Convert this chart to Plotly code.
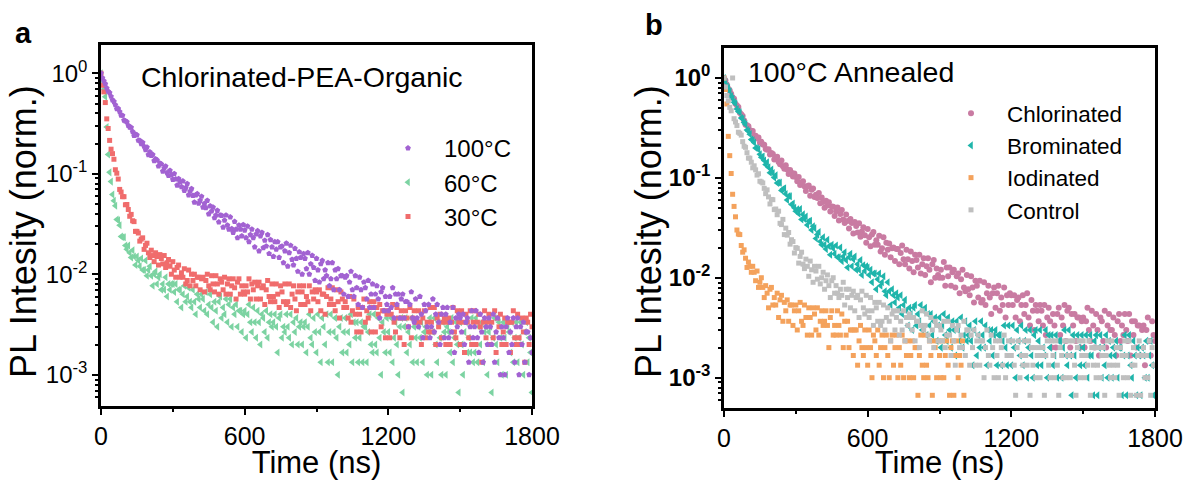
import plotly.graph_objects as go

# ---------------- data (photon counts per 6-ns TCSPC bin) ----------------
TIME_NS = list(range(0, 1801, 6))

X_TICKS = [0, 600, 1200, 1800]
X_MINOR = [300, 900, 1500]
Y_TICKS = [1e-3, 1e-2, 1e-1, 1]
Y_TICK_TEXT = ["10<sup>-3</sup>", "10<sup>-2</sup>", "10<sup>-1</sup>", "10<sup>0</sup>"]

# Panel a : Chlorinated-PEA-Organic, annealing temperature
counts_100C = [
    2985, 2682, 2507, 2344, 2127, 1974, 1909, 1758, 1620, 1563,
    1447, 1320, 1330, 1240, 1138, 1138, 1019, 1001, 981, 903,
    867, 864, 786, 715, 740, 727, 642, 640, 595, 612,
    559, 518, 550, 462, 493, 453, 464, 403, 420, 409,
    356, 380, 373, 317, 340, 356, 306, 287, 322, 290,
    262, 300, 265, 230, 267, 249, 222, 253, 203, 217,
    238, 184, 200, 212, 182, 156, 184, 189, 152, 162,
    178, 139, 151, 137, 162, 119, 143, 127, 139, 109,
    116, 129, 99, 116, 115, 88, 103, 116, 92, 84,
    111, 85, 78, 100, 84, 69, 92, 84, 72, 93,
    82, 69, 90, 63, 74, 84, 69, 56, 75, 81,
    51, 72, 78, 55, 65, 57, 74, 48, 66, 56,
    45, 63, 53, 63, 44, 56, 57, 39, 51, 61,
    36, 49, 58, 42, 37, 54, 43, 32, 50, 44,
    30, 48, 43, 34, 49, 30, 38, 46, 35, 26,
    43, 33, 25, 38, 41, 27, 33, 29, 39, 23,
    27, 39, 21, 33, 27, 34, 21, 29, 29, 19,
    28, 29, 18, 25, 32, 21, 18, 29, 22, 15,
    28, 21, 14, 25, 22, 17, 26, 14, 19, 24,
    14, 19, 23, 17, 11, 20, 22, 13, 18, 15,
    13, 18, 14, 22, 11, 19, 15, 19, 11, 17,
    19, 11, 16, 16, 9, 15, 20, 11, 10, 17,
    11, 9, 18, 12, 7, 15, 13, 9, 15, 7,
    9, 17, 8, 12, 15, 10, 6, 12, 14, 7,
    12, 14, 7, 10, 8, 14, 5, 11, 9, 12,
    11, 8, 12, 6, 10, 11, 4, 9, 13, 7,
    9, 13, 7, 5, 12, 8, 4, 11, 9, 6,
    11, 9, 6, 12, 4, 8, 11, 7, 3, 9,
    7, 3, 9, 11, 5, 8, 6, 11, 4, 9,
    11, 3, 9, 6, 10, 4, 8, 8, 3, 7,
    5,
]

counts_60C = [
    2985, 2508, 2077, 1746, 873, 466, 309, 250, 186, 161,
    144, 105, 103, 92, 71, 70, 70, 58, 53, 58,
    49, 44, 52, 45, 37, 45, 41, 36, 43, 33,
    33, 41, 29, 33, 36, 29, 23, 30, 32, 24,
    28, 30, 21, 24, 21, 28, 18, 24, 21, 24,
    24, 20, 24, 16, 21, 21, 14, 19, 23, 16,
    18, 22, 16, 14, 21, 16, 12, 19, 17, 14,
    19, 17, 13, 20, 12, 15, 19, 14, 10, 16,
    13, 9, 16, 18, 11, 14, 12, 17, 10, 15,
    17, 9, 14, 12, 15, 9, 13, 13, 8, 12,
    13, 7, 12, 15, 10, 8, 14, 10, 7, 13,
    10, 6, 12, 11, 8, 13, 7, 10, 12, 9,
    10, 12, 9, 5, 11, 12, 7, 9, 8, 12,
    9, 7, 12, 6, 10, 8, 11, 6, 9, 10,
    6, 9, 10, 5, 9, 12, 7, 6, 11, 8,
    5, 12, 8, 4, 11, 9, 6, 12, 4, 8,
    12, 4, 8, 11, 7, 3, 9, 11, 5, 8,
    11, 5, 8, 6, 12, 4, 10, 7, 10, 4,
    7, 10, 4, 9, 9, 4, 8, 12, 6, 5,
    12, 6, 5, 11, 7, 3, 10, 8, 5, 11,
    8, 5, 11, 4, 7, 10, 6, 3, 9, 11,
    2, 9, 11, 5, 8, 6, 11, 4, 9, 7,
    4, 9, 7, 10, 4, 8, 9, 3, 8, 11,
    3, 8, 11, 6, 4, 10, 7, 3, 10, 8,
    3, 9, 8, 5, 11, 4, 7, 10, 6, 2,
    10, 6, 3, 8, 10, 5, 7, 5, 11, 4,
    5, 11, 4, 9, 6, 10, 4, 8, 9, 3,
    8, 9, 2, 7, 11, 6, 4, 10, 7, 3,
    10, 7, 3, 9, 8, 5, 10, 4, 7, 10,
    4, 7, 10, 6, 3, 8, 10, 4, 7, 5,
    2,
]

counts_30C = [
    2985, 2267, 1949, 1526, 1051, 843, 642, 525, 474, 417,
    328, 303, 265, 209, 197, 177, 177, 147, 148, 132,
    113, 118, 102, 100, 80, 80, 77, 64, 67, 69,
    53, 58, 61, 49, 44, 52, 46, 40, 49, 45,
    37, 47, 43, 38, 46, 35, 39, 42, 36, 30,
    40, 33, 28, 35, 37, 28, 31, 28, 34, 24,
    26, 33, 23, 30, 26, 30, 23, 28, 28, 21,
    27, 28, 20, 26, 30, 23, 21, 29, 24, 20,
    29, 24, 19, 27, 25, 21, 28, 19, 24, 27,
    19, 23, 27, 22, 17, 25, 27, 19, 23, 20,
    19, 23, 20, 27, 17, 24, 21, 25, 17, 23,
    25, 17, 22, 23, 15, 21, 26, 18, 16, 24,
    18, 16, 24, 19, 14, 23, 20, 16, 24, 15,
    16, 24, 14, 19, 23, 17, 13, 20, 23, 15,
    20, 23, 15, 18, 16, 23, 13, 20, 17, 21,
    20, 16, 21, 13, 19, 19, 12, 18, 22, 15,
    17, 22, 15, 13, 21, 16, 11, 20, 17, 14,
    16, 14, 11, 18, 10, 13, 17, 12, 8, 14,
    12, 8, 14, 17, 10, 13, 11, 16, 8, 14,
    16, 8, 14, 12, 15, 9, 13, 13, 7, 12,
    13, 7, 12, 15, 10, 8, 14, 11, 7, 13,
    11, 6, 13, 11, 9, 14, 7, 11, 13, 10,
    10, 13, 10, 6, 11, 13, 7, 10, 8, 14,
    10, 8, 14, 6, 11, 9, 12, 7, 10, 11,
    6, 10, 11, 6, 10, 14, 8, 7, 13, 10,
    6, 13, 10, 5, 12, 10, 7, 13, 6, 10,
    13, 6, 10, 12, 9, 4, 10, 13, 7, 10,
    12, 6, 10, 7, 13, 5, 11, 9, 12, 6,
    8, 11, 6, 10, 10, 5, 10, 13, 7, 6,
    12, 7, 6, 11, 8, 4, 11, 10, 6, 12,
    9,
]

# Panel b : 100 °C annealed, halide type
counts_chlorinated = [
    2985, 2824, 2556, 2324, 2243, 2074, 1901, 1851, 1652, 1581,
    1529, 1343, 1295, 1244, 1124, 1018, 1004, 983, 895, 886,
    882, 793, 789, 742, 760, 671, 689, 644, 643, 580,
    572, 579, 511, 530, 518, 457, 476, 487, 432, 409,
    447, 391, 369, 399, 363, 327, 358, 337, 308, 331,
    306, 276, 306, 254, 268, 277, 247, 221, 246, 251,
    198, 228, 234, 193, 203, 188, 211, 167, 190, 172,
    150, 177, 158, 171, 138, 155, 154, 124, 139, 151,
    112, 130, 143, 115, 106, 129, 111, 93, 116, 106,
    83, 108, 99, 85, 105, 77, 87, 96, 80, 67,
    92, 76, 62, 81, 86, 64, 71, 64, 79, 55,
    59, 76, 51, 67, 57, 66, 48, 59, 60, 44,
    58, 58, 41, 53, 63, 46, 41, 57, 46, 37,
    55, 44, 34, 51, 45, 38, 51, 33, 41, 47,
    32, 39, 47, 36, 27, 41, 45, 30, 37, 32,
    30, 36, 30, 43, 25, 38, 31, 38, 25, 34,
    36, 24, 31, 33, 21, 29, 36, 24, 22, 32,
    23, 20, 31, 24, 17, 28, 25, 19, 28, 17,
    18, 27, 16, 21, 25, 19, 13, 21, 24, 15,
    21, 25, 14, 19, 16, 24, 12, 20, 16, 21,
    20, 16, 20, 12, 18, 19, 11, 16, 20, 13,
    16, 21, 12, 10, 18, 14, 9, 16, 14, 11,
    16, 14, 10, 16, 8, 12, 15, 11, 6, 13,
    10, 6, 13, 15, 8, 12, 10, 16, 7, 14,
    15, 6, 13, 10, 13, 7, 12, 12, 6, 11,
    12, 6, 11, 15, 9, 7, 14, 10, 6, 13,
    9, 5, 12, 11, 7, 14, 6, 10, 13, 9,
    9, 12, 8, 5, 11, 13, 7, 10, 8, 13,
    9, 7, 13, 5, 11, 8, 11, 6, 10, 10,
    5, 9, 10, 4, 9, 12, 7, 5, 11, 8,
    7,
]

counts_brominated = [
    2985, 2744, 2465, 2375, 2202, 1956, 1856, 1711, 1654, 1463,
    1380, 1358, 1185, 1167, 1070, 1025, 900, 875, 819, 724,
    710, 674, 595, 591, 579, 514, 480, 490, 447, 406,
    428, 381, 337, 362, 335, 301, 317, 266, 268, 268,
    224, 231, 235, 206, 180, 197, 196, 162, 166, 150,
    139, 145, 131, 146, 115, 129, 116, 123, 101, 110,
    111, 90, 98, 94, 74, 81, 86, 69, 64, 76,
    64, 58, 72, 62, 51, 64, 59, 52, 63, 48,
    48, 60, 44, 49, 54, 45, 38, 48, 52, 39,
    46, 49, 36, 41, 36, 45, 32, 40, 35, 39,
    38, 32, 36, 27, 33, 33, 23, 29, 33, 25,
    27, 31, 22, 20, 27, 22, 16, 23, 20, 17,
    21, 19, 15, 20, 13, 16, 18, 14, 10, 15,
    13, 9, 15, 16, 10, 13, 11, 16, 9, 14,
    15, 8, 13, 10, 13, 8, 11, 12, 7, 10,
    12, 6, 10, 13, 8, 7, 12, 9, 6, 11,
    9, 5, 11, 9, 7, 12, 6, 8, 11, 7,
    8, 10, 7, 4, 9, 11, 5, 8, 6, 11,
    8, 6, 10, 4, 9, 7, 9, 5, 8, 9,
    4, 8, 8, 4, 7, 10, 6, 4, 10, 7,
    4, 10, 6, 3, 9, 7, 5, 10, 4, 7,
    9, 3, 6, 9, 5, 3, 8, 9, 4, 7,
    9, 4, 6, 5, 9, 3, 8, 6, 8, 4,
    5, 8, 3, 7, 7, 3, 6, 9, 5, 4,
    9, 5, 2, 8, 5, 3, 8, 6, 4, 8,
    6, 4, 8, 3, 5, 8, 5, 2, 7, 8,
    2, 6, 8, 3, 6, 4, 8, 3, 7, 5,
    3, 6, 5, 7, 3, 6, 6, 2, 5, 8,
    2, 5, 8, 4, 3, 7, 5, 2, 6, 5,
    2, 6, 5, 3, 7, 3, 5, 7, 4, 2,
    4,
]

counts_iodinated = [
    2985, 2289, 1640, 778, 499, 331, 205, 155, 122, 90,
    82, 81, 63, 54, 57, 47, 38, 43, 39, 34,
    39, 34, 28, 35, 24, 27, 30, 24, 19, 25,
    21, 15, 23, 24, 16, 19, 16, 21, 12, 18,
    20, 11, 17, 14, 18, 11, 16, 16, 10, 14,
    16, 9, 14, 17, 11, 10, 16, 12, 8, 15,
    12, 8, 15, 13, 9, 15, 8, 11, 14, 10,
    11, 14, 10, 6, 12, 14, 8, 10, 8, 14,
    10, 8, 13, 6, 11, 8, 11, 6, 9, 9,
    5, 9, 9, 4, 7, 10, 6, 5, 9, 6,
    4, 9, 6, 3, 8, 7, 5, 9, 4, 6,
    8, 3, 6, 8, 5, 3, 7, 8, 4, 6,
    8, 3, 6, 4, 8, 3, 7, 5, 7, 3,
    5, 7, 3, 6, 6, 2, 5, 8, 4, 3,
    8, 4, 3, 7, 5, 2, 7, 6, 3, 7,
    5, 3, 7, 3, 5, 7, 4, 2, 6, 7,
    2, 5, 7, 3, 5, 4, 7, 2,
]

counts_control = [
    2985, 2424, 1993, 1763, 1518, 1402, 2985, 1169, 1084, 998,
    856, 835, 801, 689, 620, 604, 534, 472, 471, 429,
    377, 395, 360, 319, 329, 277, 272, 266, 235, 208,
    227, 193, 164, 182, 181, 144, 146, 128, 139, 105,
    102, 115, 81, 94, 80, 85, 65, 72, 69, 53,
    60, 59, 42, 49, 54, 41, 37, 46, 39, 31,
    44, 36, 27, 39, 35, 29, 39, 26, 30, 34,
    23, 28, 32, 25, 19, 28, 30, 21, 25, 21,
    19, 23, 20, 27, 16, 23, 19, 23, 15, 20,
    22, 14, 19, 20, 12, 18, 22, 15, 13, 20,
    14, 12, 19, 14, 10, 17, 15, 11, 17, 10,
    11, 16, 9, 12, 15, 11, 7, 13, 14, 9,
    12, 14, 8, 11, 9, 14, 7, 12, 10, 13,
    12, 9, 12, 7, 11, 11, 6, 10, 14, 9,
    10, 13, 8, 7, 12, 9, 6, 11, 10, 7,
    10, 9, 7, 11, 6, 8, 11, 8, 5, 10,
    7, 4, 9, 10, 6, 8, 6, 11, 5, 9,
    9, 4, 8, 6, 9, 4, 7, 8, 4, 7,
    7, 3, 6, 9, 5, 4, 8, 6, 3, 7,
    5, 3, 7, 6, 4, 8, 3, 5, 7, 5,
    5, 7, 4, 2, 6, 7, 3, 5, 4, 7,
    5, 4, 7, 2, 6, 4, 6, 3, 5, 6,
    3, 5, 6, 2, 5, 7, 4, 3, 7, 5,
    3, 7, 4, 2, 6, 5, 3, 7, 3, 5,
    7, 3, 5, 7, 4, 2, 6, 7, 3, 5,
    7, 3, 5, 4, 7, 2, 6, 4, 6, 3,
    4, 6, 3, 5, 6, 2, 5, 7, 4, 3,
    7, 4, 3, 6, 4, 2, 6, 5, 3, 7,
    5, 3, 7, 2, 4, 6, 4, 2, 5, 7,
    2, 5, 6, 3, 5, 3, 7, 2, 6, 4,
    4,
]

# ---------------- styling ----------------
FONT = "Liberation Sans, Arial, Helvetica, sans-serif"
W, H = 1185, 480


def norm(counts):
    peak = max(counts)
    return [c / peak for c in counts]


def px_x(p):
    return p / W


def px_y(p):
    return 1 - p / H


fig = go.Figure()

# drawing order (bottom -> top); legend order set by legendrank
panel_a = [
    (counts_60C, "60°C", "triangle-left", 7, "#7CD3A2", 2),
    (counts_30C, "30°C", "square", 5, "#F06C6C", 3),
    (counts_100C, "100°C", "pentagon", 6, "#A262D2", 1),
]
for counts, name, sym, size, col, rank in panel_a:
    fig.add_trace(go.Scatter(
        x=TIME_NS[:len(counts)], y=norm(counts), mode="markers", name=name,
        marker=dict(symbol=sym, size=size, color=col, line=dict(width=0)),
        xaxis="x", yaxis="y", legend="legend", legendrank=rank,
    ))

panel_b = [
    (counts_chlorinated, "Chlorinated", "circle", 6, "#C97BA2", 1),
    (counts_brominated, "Brominated", "triangle-left", 7, "#1FB5AB", 2),
    (counts_iodinated, "Iodinated", "square", 5, "#F4A25C", 3),
    (counts_control, "Control", "square", 5, "#BFBFBF", 4),
]
for counts, name, sym, size, col, rank in panel_b:
    fig.add_trace(go.Scatter(
        x=TIME_NS[:len(counts)], y=norm(counts), mode="markers", name=name,
        marker=dict(symbol=sym, size=size, color=col, line=dict(width=0)),
        xaxis="x2", yaxis="y2", legend="legend2", legendrank=rank,
    ))

y_minor = [m * 10.0 ** e for e in (-4, -3, -2, -1) for m in range(2, 10)
           if 5e-4 < m * 10.0 ** e < 1.9]

common = dict(showline=True, linecolor="black", linewidth=2.5, mirror=True,
              showgrid=False, zeroline=False, ticks="outside", tickcolor="black",
              tickwidth=2, ticklen=6)


def xaxis(domain, anchor):
    return dict(common, domain=domain, anchor=anchor, range=[0, 1800],
                tickmode="array", tickvals=X_TICKS, ticktext=[str(v) for v in X_TICKS],
                tickfont=dict(family=FONT, size=25, color="black"),
                minor=dict(tickmode="array", tickvals=X_MINOR, ticks="outside",
                           ticklen=3, tickwidth=2, tickcolor="black"),
                title=dict(text="Time (ns)", font=dict(family=FONT, size=31, color="black"),
                           standoff=7))


def yaxis(domain, anchor, rng, bold):
    txt = ["<b>%s</b>" % t for t in Y_TICK_TEXT] if bold else Y_TICK_TEXT
    return dict(common, domain=domain, anchor=anchor, type="log", range=rng,
                tickmode="array", tickvals=Y_TICKS, ticktext=txt,
                tickfont=dict(family=FONT, size=24, color="black"),
                minor=dict(tickmode="array", tickvals=y_minor, ticks="outside",
                           ticklen=3.5, tickwidth=1.5, tickcolor="black"))


Y_TITLE = "PL Intesity (norm.)"
ytitle_font = dict(family=FONT, size=36, color="black")

fig.update_layout(
    width=W, height=H, margin=dict(l=0, r=0, t=0, b=0),
    template="none", paper_bgcolor="white", plot_bgcolor="white",
    font=dict(family=FONT, color="black"),
    xaxis=xaxis([px_x(101), px_x(532)], "y"),
    yaxis=yaxis([px_y(406), px_y(45)], "x", [-3.308, 0.281], False),
    xaxis2=xaxis([px_x(724), px_x(1155)], "y2"),
    yaxis2=yaxis([px_y(408), px_y(48)], "x2", [-3.301, 0.30], True),
    legend=dict(x=px_x(372), y=px_y(126), xanchor="left", yanchor="top",
                bgcolor="rgba(0,0,0,0)", itemwidth=62, tracegroupgap=0,
                font=dict(family=FONT, size=24, color="black")),
    legend2=dict(x=px_x(935), y=px_y(92), xanchor="left", yanchor="top",
                 bgcolor="rgba(0,0,0,0)", itemwidth=62, tracegroupgap=0,
                 font=dict(family=FONT, size=22.5, color="black")),
    annotations=[
        dict(text="<b>a</b>", x=px_x(13), y=px_y(33), xref="paper", yref="paper",
             xanchor="left", yanchor="middle", showarrow=False,
             font=dict(family=FONT, size=29, color="black")),
        dict(text="<b>b</b>", x=px_x(643), y=px_y(25), xref="paper", yref="paper",
             xanchor="left", yanchor="middle", showarrow=False,
             font=dict(family=FONT, size=29, color="black")),
        dict(text="Chlorinated-PEA-Organic", x=px_x(139), y=px_y(77), xref="paper",
             yref="paper", xanchor="left", yanchor="middle", showarrow=False,
             font=dict(family=FONT, size=28.5, color="black")),
        dict(text="100°C Annealed", x=px_x(746), y=px_y(72), xref="paper",
             yref="paper", xanchor="left", yanchor="middle", showarrow=False,
             font=dict(family=FONT, size=28.5, color="black")),
        dict(text=Y_TITLE, textangle=-90, x=px_x(23), y=px_y(232), xref="paper",
             yref="paper", xanchor="center", yanchor="middle", showarrow=False,
             font=ytitle_font),
        dict(text=Y_TITLE, textangle=-90, x=px_x(648), y=px_y(232), xref="paper",
             yref="paper", xanchor="center", yanchor="middle", showarrow=False,
             font=ytitle_font),
    ],
)

fig.write_html("out.html")
